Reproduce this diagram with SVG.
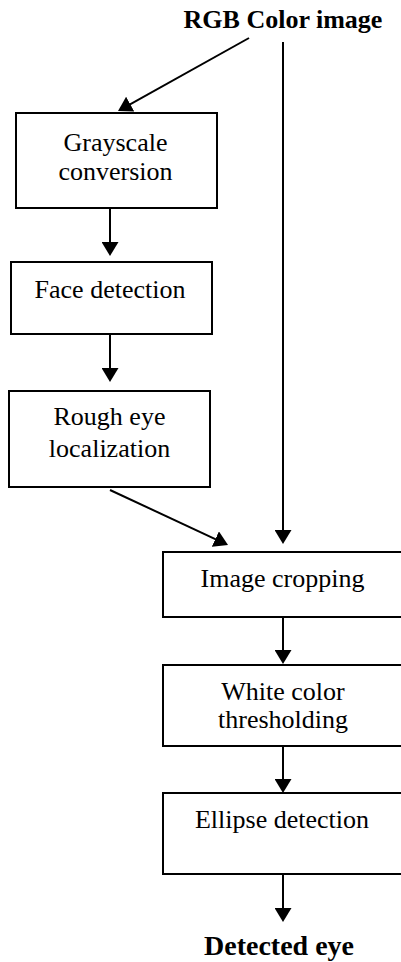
<svg xmlns="http://www.w3.org/2000/svg" width="401" height="962" viewBox="0 0 401 962">
<style>
.box{fill:#fff;stroke:#000;stroke-width:2}
.lbl{font-family:"Liberation Serif","Times New Roman",serif;font-size:26px;fill:#000;text-anchor:middle}
.bold{font-weight:bold}
.conn line{stroke:#000;stroke-width:2;fill:none}
</style>
<defs>
<marker id="ah" viewBox="0 0 14 17" refX="10" refY="8.5" markerWidth="14" markerHeight="17" markerUnits="userSpaceOnUse" orient="auto">
<path d="M0,0 L14,8.5 L0,17 z" fill="#000"/>
</marker>
</defs>
<rect width="401" height="962" fill="#fff"/>
<g id="rgb"><text class="lbl bold" x="283" y="28">RGB Color image</text></g>
<g id="gray"><rect class="box" x="16" y="113" width="201" height="95"/><text class="lbl" x="115.5" y="151">Grayscale</text><text class="lbl" x="115.5" y="180">conversion</text></g>
<g id="face"><rect class="box" x="11" y="262" width="201" height="72"/><text class="lbl" x="110" y="298">Face detection</text></g>
<g id="rough"><rect class="box" x="9" y="391" width="201" height="96"/><text class="lbl" x="109.5" y="425">Rough eye</text><text class="lbl" x="109.5" y="457">localization</text></g>
<g id="crop"><rect class="box" x="163" y="552" width="240" height="65"/><text class="lbl" x="282.5" y="587">Image cropping</text></g>
<g id="white"><rect class="box" x="163" y="665" width="240" height="81"/><text class="lbl" x="283" y="700">White color</text><text class="lbl" x="283" y="728">thresholding</text></g>
<g id="ellipse"><rect class="box" x="163" y="793" width="240" height="81"/><text class="lbl" x="282" y="828">Ellipse detection</text></g>
<g id="out"><text class="lbl bold" x="279" y="955" style="font-size:28px">Detected eye</text></g>
<g id="connectors" class="conn">
<line x1="249" y1="38" x2="121.5" y2="109.05" marker-end="url(#ah)"/>
<line x1="283" y1="42" x2="283" y2="540" marker-end="url(#ah)"/>
<line x1="110" y1="209" x2="110" y2="252" marker-end="url(#ah)"/>
<line x1="110" y1="335" x2="110" y2="378" marker-end="url(#ah)"/>
<line x1="110" y1="490" x2="224.4" y2="543.3" marker-end="url(#ah)"/>
<line x1="283" y1="618" x2="283" y2="660" marker-end="url(#ah)"/>
<line x1="283" y1="747" x2="283" y2="789" marker-end="url(#ah)"/>
<line x1="283" y1="875" x2="283" y2="918" marker-end="url(#ah)"/>
</g>
</svg>
